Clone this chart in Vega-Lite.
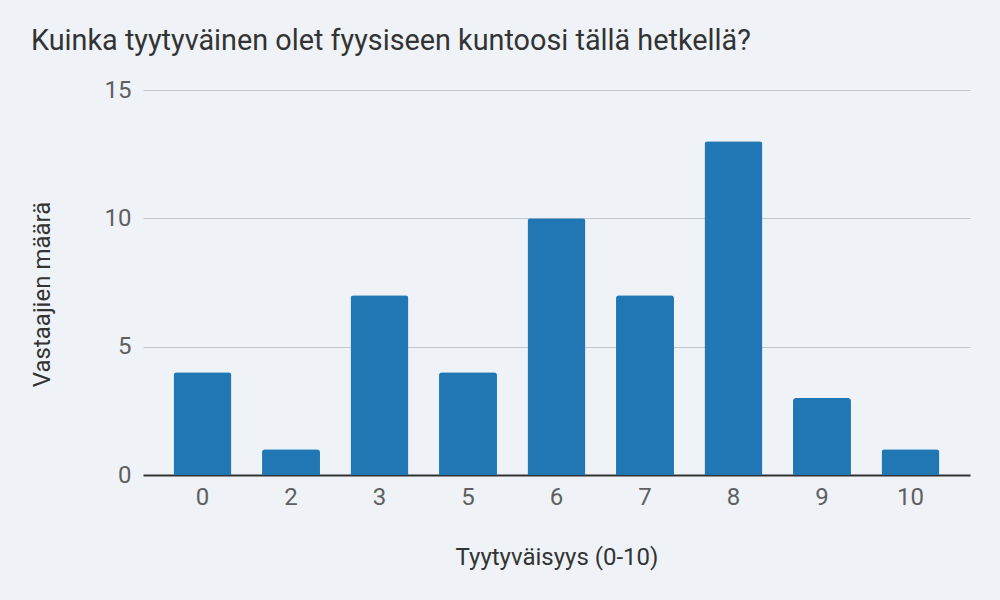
{
  "$schema": "https://vega.github.io/schema/vega-lite/v6.json",
  "width": 827,
  "height": 385,
  "autosize": "none",
  "padding": {"left": 143, "top": 90, "right": 30, "bottom": 125},
  "background": "#eff3f8",
  "config": {
    "view": {"stroke": null},
    "font": "Roboto"
  },
  "title": {
    "text": "Kuinka tyytyväinen olet fyysiseen kuntoosi tällä hetkellä?",
    "anchor": "start",
    "frame": "group",
    "dx": -112,
    "dy": 9,
    "offset": 8,
    "baseline": "alphabetic",
    "fontSize": 28.8,
    "fontWeight": "normal",
    "color": "#333333"
  },
  "data": {
    "values": [
      {"tyytyvaisyys": "0", "maara": 4},
      {"tyytyvaisyys": "2", "maara": 1},
      {"tyytyvaisyys": "3", "maara": 7},
      {"tyytyvaisyys": "5", "maara": 4},
      {"tyytyvaisyys": "6", "maara": 10},
      {"tyytyvaisyys": "7", "maara": 7},
      {"tyytyvaisyys": "8", "maara": 13},
      {"tyytyvaisyys": "9", "maara": 3},
      {"tyytyvaisyys": "10", "maara": 1}
    ]
  },
  "mark": {"type": "bar", "color": "#2077b4", "cornerRadiusTopLeft": 3, "cornerRadiusTopRight": 3},
  "encoding": {
    "x": {
      "field": "tyytyvaisyys",
      "type": "ordinal",
      "sort": null,
      "scale": {"paddingInner": 0.345, "paddingOuter": 0.345},
      "axis": {
        "title": "Tyytyväisyys (0-10)",
        "titleFontSize": 24,
        "titleFontWeight": "normal",
        "titleColor": "#333333",
        "titlePadding": 36,
        "labelAngle": 0,
        "labelFontSize": 24,
        "labelColor": "#5f5f5f",
        "labelPadding": 10,
        "ticks": false,
        "domainColor": "#333333",
        "domainWidth": 2
      }
    },
    "y": {
      "field": "maara",
      "type": "quantitative",
      "scale": {"domain": [0, 15]},
      "axis": {
        "title": "Vastaajien määrä",
        "titleFontSize": 24,
        "titleFontWeight": "normal",
        "titleColor": "#333333",
        "titlePadding": 50,
        "titleY": 204,
        "values": [0, 5, 10, 15],
        "labelFontSize": 24,
        "labelColor": "#5f5f5f",
        "labelPadding": 12,
        "ticks": false,
        "domain": false,
        "gridColor": "#c3c6ca",
        "gridWidth": 1
      }
    }
  }
}
